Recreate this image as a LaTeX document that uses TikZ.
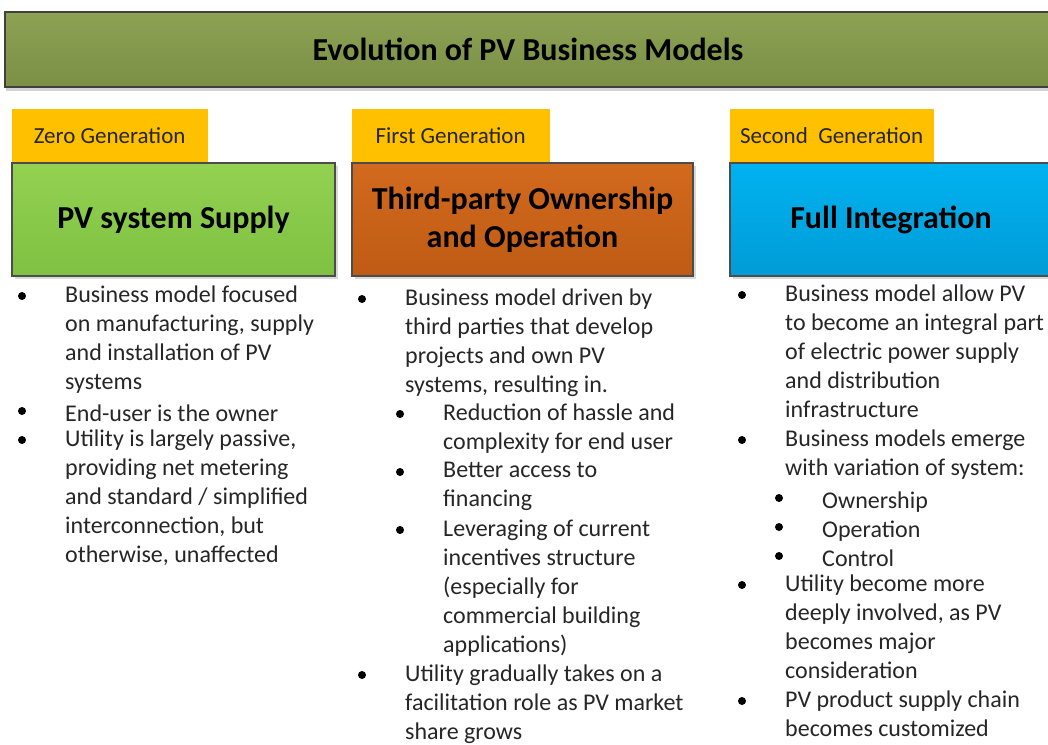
\documentclass[tikz,border=0pt]{standalone}
\usepackage{fontspec}
\setmainfont{Carlito}
\usepackage{tikz}
\usetikzlibrary{positioning, shadows}

\definecolor{olive1}{HTML}{8DA253}
\definecolor{olive2}{HTML}{7B8F46}
\definecolor{tabgold}{HTML}{FFC000}
\definecolor{green1}{HTML}{93D151}
\definecolor{green2}{HTML}{7FC142}
\definecolor{rust1}{HTML}{D26A1E}
\definecolor{rust2}{HTML}{BF5B14}
\definecolor{sky1}{HTML}{00B2F0}
\definecolor{sky2}{HTML}{009CD6}

\begin{document}
\begin{tikzpicture}[
        x=1pt, y=-1pt,
        % styles
        titlebar/.style={rectangle, draw=black!75, line width=1.5pt, top color=olive1, bottom color=olive2, font=\fontsize{32}{38}\selectfont\bfseries, drop shadow={shadow xshift=1pt, shadow yshift=-4pt, opacity=.35}},
        tab/.style={rectangle, fill=tabgold, inner sep=0pt, minimum height=53pt, font=\fontsize{23}{28}\selectfont, text=black!85},
        genbox/.style={rectangle, draw=black!70, line width=1.2pt, minimum height=113pt, align=center, font=\fontsize{32}{38}\selectfont\bfseries, drop shadow={shadow xshift=3pt, shadow yshift=-3pt, opacity=.3}},
        dot/.style={circle, fill=black, inner sep=0pt, minimum size=8pt},
        pt/.style={anchor=north west, inner sep=0pt, align=left, yshift=10.5pt, font=\fontsize{24}{29}\selectfont, text=black!85, execute at begin node=\strut, label={[dot, anchor=center, xshift=-43pt, yshift=-10.5pt]north west:{}}} ]

    \useasboundingbox (0,0) rectangle (1048,744);
    \clip (0,0) rectangle (1048,744);

    % --- TITLE ---
    \node (title) [titlebar, minimum width=1046pt, minimum height=75pt] at (528,49.5) {Evolution of PV Business Models};

    % --- GENERATION BOXES ---
    \node (gen0) [genbox, top color=green1, bottom color=green2, minimum width=323pt] at (173.5,219.5) {PV system Supply};
    \node (gen1) [genbox, top color=rust1, bottom color=rust2, minimum width=341pt] at (522.5,219.5) {Third-party Ownership\\and Operation};
    \node (gen2) [genbox, top color=sky1, bottom color=sky2, minimum width=322pt] at (891,219.5) {Full Integration};

    % tabs sit on the boxes
    \node (tab0) [tab, minimum width=196pt, above right=0pt of gen0.north west] {Zero Generation};
    \node (tab1) [tab, minimum width=198pt, above right=0pt of gen1.north west] {First Generation};
    \node (tab2) [tab, minimum width=204pt, above right=0pt of gen2.north west] {Second\ \ Generation};

    % --- COLUMN 1: Zero Generation ---
    \node (z1) [pt] at (65,296) {Business model focused\\on manufacturing, supply\\and installation of PV\\systems};
    \node (z2) [pt] at (65,411) {End-user is the owner};
    \node (z3) [pt] at (65,440) {Utility is largely passive,\\providing net metering\\and standard / simplified\\interconnection, but\\otherwise, unaffected};

    % --- COLUMN 2: First Generation ---
    \node (f1) [pt] at (405,299) {Business model driven by\\third parties that develop\\projects and own PV\\systems, resulting in.};
    \node (f2) [pt] at (443,414) {Reduction of hassle and\\complexity for end user};
    \node (f3) [pt] at (443,472) {Better access to\\financing};
    \node (f4) [pt] at (443,530) {Leveraging of current\\incentives structure\\(especially for\\commercial building\\applications)};
    \node (f5) [pt] at (405,675) {Utility gradually takes on a\\facilitation role as PV market\\share grows};

    % --- COLUMN 3: Second Generation ---
    \node (s1) [pt] at (785,295) {Business model allow PV\\to become an integral part\\of electric power supply\\and distribution\\infrastructure};
    \node (s2) [pt] at (785,440) {Business models emerge\\with variation of system:};
    \node (s3) [pt] at (822,498) {Ownership};
    \node (s4) [pt] at (822,527) {Operation};
    \node (s5) [pt] at (822,556) {Control};
    \node (s6) [pt] at (785,585) {Utility become more\\deeply involved, as PV\\becomes major\\consideration};
    \node (s7) [pt] at (785,701) {PV product supply chain\\becomes customized};

\end{tikzpicture}
\end{document}
